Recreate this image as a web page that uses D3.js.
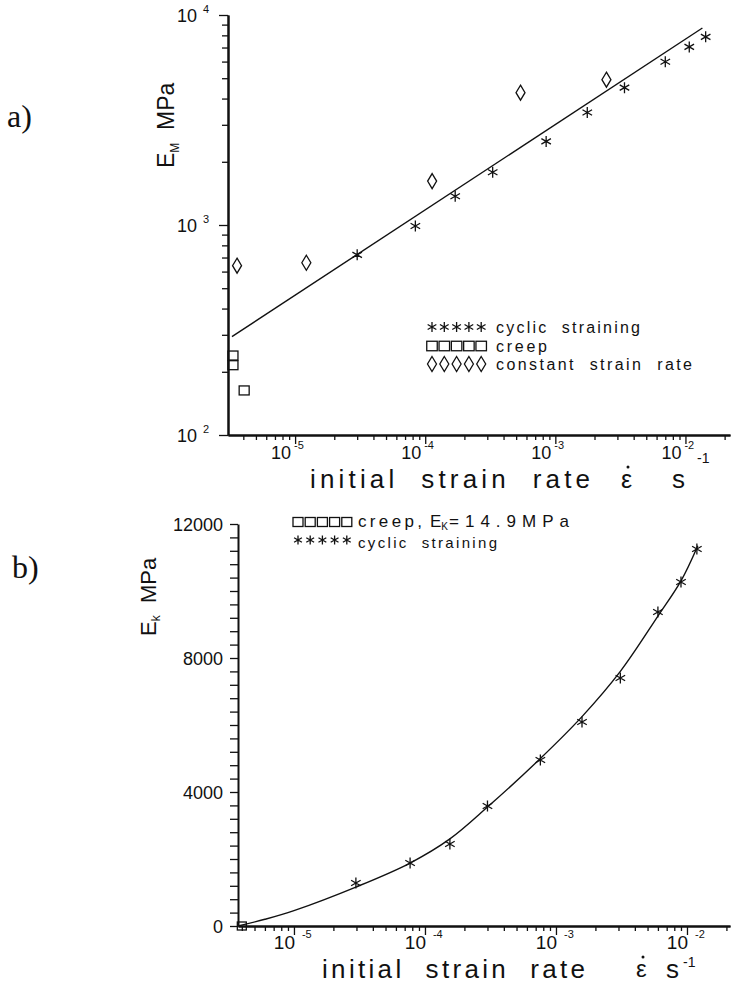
<!DOCTYPE html>
<html>
<head>
<meta charset="utf-8">
<script src="https://cdn.jsdelivr.net/npm/d3@7"></script>
<style>
  html, body { margin: 0; padding: 0; background: #fff; }
  svg { display: block; font-family: "Liberation Sans", Arial, sans-serif; }
  text { white-space: pre; }
</style>
</head>
<body>
<svg id="chart" width="734" height="984"></svg>
<script>
// --- panel a) : E_M vs initial strain rate (log-log) ---
const cyclicRateA = [3.0e-5, 8.4e-5, 1.7e-4, 3.3e-4, 8.5e-4, 1.76e-3, 3.4e-3, 7.0e-3, 1.07e-2, 1.43e-2];
const cyclicEA    = [721, 989, 1371, 1783, 2500, 3434, 4508, 5986, 7050, 7870];
const creepRateA  = [3.33e-6, 3.33e-6, 4.06e-6];
const creepEA     = [239, 215, 163];
const constRateA  = [3.58e-6, 1.22e-5, 1.13e-4, 5.4e-4, 2.47e-3];
const constEA     = [640, 661, 1618, 4266, 4920];
const fitRateA    = [3.27e-6, 1.35e-2];
const fitEA       = [294, 8670];
const legendA     = ["cyclic  straining", "creep", "constant  strain  rate"];

// --- panel b) : E_k vs initial strain rate (lin-log) ---
const cyclicRateB = [2.97e-5, 7.7e-5, 1.55e-4, 3.0e-4, 7.6e-4, 1.58e-3, 3.1e-3, 6.0e-3, 9.0e-3, 1.19e-2];
const cyclicEB    = [1284, 1880, 2448, 3582, 4955, 6090, 7403, 9373, 10269, 11254];
const creepRateB  = [4.0e-6];
const creepEB     = [0];
const fitRateB    = [3.74e-6, 6.0e-6, 1.0e-5, 3.0e-5, 7.7e-5, 1.55e-4, 3.0e-4, 7.6e-4, 1.58e-3, 3.1e-3, 6.0e-3, 9.0e-3, 1.21e-2];
const fitEB       = [0, 200, 460, 1170, 1880, 2600, 3550, 5000, 6250, 7600, 9250, 10300, 11350];
const yTicksB     = [0, 4000, 8000, 12000];

const svg = d3.select("#chart");
const ink = "#111";

// plotter-like marker shapes
function starPath(cx, cy, r) {
  const a = r * 0.87, b = r * 0.5;
  return `M${cx},${cy - r}L${cx},${cy + r}` +
         `M${cx - a},${cy - b}L${cx + a},${cy + b}` +
         `M${cx - a},${cy + b}L${cx + a},${cy - b}`;
}
function diamondPath(cx, cy, w, h) {
  return `M${cx},${cy - h}L${cx + w},${cy}L${cx},${cy + h}L${cx - w},${cy}Z`;
}
function drawStars(g, pts, r) {
  g.selectAll(null).data(pts).join("path")
    .attr("d", d => starPath(d[0], d[1], r))
    .attr("fill", "none").attr("stroke", ink).attr("stroke-width", 1.3);
}
function drawSquares(g, pts, s) {
  g.selectAll(null).data(pts).join("rect")
    .attr("x", d => d[0] - s / 2).attr("y", d => d[1] - s / 2 + 0.5)
    .attr("width", s).attr("height", s - 1)
    .attr("fill", "none").attr("stroke", ink).attr("stroke-width", 1.3);
}
function drawDiamonds(g, pts, w, h) {
  g.selectAll(null).data(pts).join("path")
    .attr("d", d => diamondPath(d[0], d[1], w, h))
    .attr("fill", "none").attr("stroke", ink).attr("stroke-width", 1.3);
}

function logTicks(domain) {
  const minor = [], major = [];
  const lo = Math.floor(Math.log10(domain[0])), hi = Math.ceil(Math.log10(domain[1]));
  for (let e = lo; e <= hi; e++) {
    for (let m = 1; m <= 9; m++) {
      const v = m * Math.pow(10, e);
      if (v < domain[0] || v > domain[1]) continue;
      (m === 1 ? major : minor).push(v);
    }
  }
  return { minor, major };
}

function styleAxis(g, w) {
  g.selectAll("path.domain").attr("stroke", ink).attr("stroke-width", w);
  g.selectAll(".tick line").attr("stroke", ink).attr("stroke-width", 1.3);
}

// "10" with a raised exponent, in one text element
function powLabel(g, xEnd, y, exp, size, supSize, gap, rise) {
  const t = g.append("text").attr("fill", ink).attr("font-size", size);
  t.append("tspan").attr("x", xEnd).attr("y", y).attr("text-anchor", "end").text("10");
  t.append("tspan").attr("x", xEnd + gap).attr("y", y - rise)
    .attr("font-size", supSize).text(exp);
}

// ================= panel a =================
const xA = d3.scaleLog().domain([3.05e-6, 2.2e-2]).range([228, 730]);
const yA = d3.scaleLog().domain([100, 10000]).range([435, 15]);
const gA = svg.append("g");

const tkxA = logTicks(xA.domain());
const axA1 = gA.append("g").attr("transform", `translate(0,${yA(100)})`)
  .call(d3.axisBottom(xA).tickValues(tkxA.minor).tickSize(5).tickSizeOuter(0).tickFormat(""));
const axA2 = gA.append("g").attr("transform", `translate(0,${yA(100)})`)
  .call(d3.axisBottom(xA).tickValues(tkxA.major).tickSize(9).tickSizeOuter(0).tickFormat(""));
styleAxis(axA1, 2); styleAxis(axA2, 2);

const tkyA = logTicks(yA.domain());
const ayA1 = gA.append("g").attr("transform", `translate(${xA.range()[0]},0)`)
  .call(d3.axisLeft(yA).tickValues(tkyA.minor).tickSize(6).tickSizeOuter(0).tickFormat(""));
const ayA2 = gA.append("g").attr("transform", `translate(${xA.range()[0]},0)`)
  .call(d3.axisLeft(yA).tickValues(tkyA.major).tickSize(9).tickSizeOuter(0).tickFormat(""));
styleAxis(ayA1, 2); styleAxis(ayA2, 2);

// tick labels (powers of ten)
tkxA.major.forEach(v => {
  powLabel(gA, xA(v) - 4, 459, "-" + Math.abs(Math.round(Math.log10(v))), 18, 11, 3, 10);
});
tkyA.major.forEach(v => {
  powLabel(gA, 197, yA(v) + 7, String(Math.round(Math.log10(v))), 18, 11, 6, 9);
});

// fitted line
gA.append("path")
  .datum(d3.zip(fitRateA, fitEA))
  .attr("d", d3.line().x(d => xA(d[0])).y(d => yA(d[1])))
  .attr("fill", "none").attr("stroke", ink).attr("stroke-width", 1.4);

drawStars(gA, d3.zip(cyclicRateA, cyclicEA).map(d => [xA(d[0]), yA(d[1])]), 5.5);
drawSquares(gA, d3.zip(creepRateA, creepEA).map(d => [xA(d[0]), yA(d[1])]), 10);
drawDiamonds(gA, d3.zip(constRateA, constEA).map(d => [xA(d[0]), yA(d[1])]), 4.5, 7.5);

// legend a
const legAy = [327, 346, 364];
const legStep = 12.3;
const symX = d3.range(5).map(i => 432 + i * legStep);
drawStars(gA, symX.map(x => [x, legAy[0]]), 5);
drawSquares(gA, symX.map(x => [x, legAy[1]]), 10.5);
drawDiamonds(gA, symX.map(x => [x, legAy[2]]), 4.5, 7.5);
const legAw = [144, 51, 196];
legendA.forEach((s, i) => {
  gA.append("text").attr("x", 496).attr("y", legAy[i] + 6)
    .attr("font-size", 16).attr("fill", ink)
    .attr("textLength", legAw[i]).attr("lengthAdjust", "spacing").text(s);
});

// axis titles a
gA.append("text").attr("x", 310).attr("y", 488).attr("font-size", 26).attr("fill", ink)
  .attr("textLength", 280).attr("lengthAdjust", "spacing").text("initial  strain  rate");
gA.append("text").attr("x", 621).attr("y", 488).attr("font-size", 25).attr("fill", ink).text("ε");
gA.append("circle").attr("cx", 628).attr("cy", 467).attr("r", 1.5).attr("fill", ink);
gA.append("text").attr("x", 672).attr("y", 488).attr("font-size", 26).attr("fill", ink).text("s");
gA.append("text").attr("x", 697).attr("y", 463).attr("font-size", 14).attr("fill", ink).text("-1");

const ytA = gA.append("text").attr("transform", "translate(174,168) rotate(-90)")
  .attr("font-size", 23).attr("fill", ink);
ytA.append("tspan").text("E");
ytA.append("tspan").attr("font-size", 12).attr("dy", 5).text("M");
ytA.append("tspan").attr("dy", -5).text("  MPa");

svg.append("text").attr("x", 7).attr("y", 127).attr("font-family", "'Liberation Serif', serif")
  .attr("font-size", 32).attr("fill", ink).text("a)");

// ================= panel b =================
const xB = d3.scaleLog().domain([3.74e-6, 2.13e-2]).range([238, 730]);
const yB = d3.scaleLinear().domain([0, 12000]).range([926, 524]);
const gB = svg.append("g");

const tkxB = logTicks(xB.domain());
const axB1 = gB.append("g").attr("transform", `translate(0,${yB(0)})`)
  .call(d3.axisBottom(xB).tickValues(tkxB.minor).tickSize(5).tickSizeOuter(0).tickFormat(""));
const axB2 = gB.append("g").attr("transform", `translate(0,${yB(0)})`)
  .call(d3.axisBottom(xB).tickValues(tkxB.major).tickSize(9).tickSizeOuter(0).tickFormat(""));
styleAxis(axB1, 2); styleAxis(axB2, 2);

const ayB = gB.append("g").attr("transform", `translate(${xB.range()[0]},0)`)
  .call(d3.axisLeft(yB).tickValues(d3.range(0, 12001, 400)).tickSize(8).tickSizeOuter(0).tickFormat(""));
styleAxis(ayB, 2);

yTicksB.forEach(v => {
  gB.append("text").attr("x", 223).attr("y", yB(v) + 6.5).attr("text-anchor", "end")
    .attr("font-size", 18).attr("fill", ink).text(v);
});
tkxB.major.forEach(v => {
  powLabel(gB, xB(v) + 1, 949, "-" + Math.abs(Math.round(Math.log10(v))), 19, 11, 7, 11);
});

gB.append("path")
  .datum(d3.zip(fitRateB, fitEB))
  .attr("d", d3.line().curve(d3.curveCatmullRom.alpha(0.5)).x(d => xB(d[0])).y(d => yB(d[1])))
  .attr("fill", "none").attr("stroke", ink).attr("stroke-width", 1.4);

drawStars(gB, d3.zip(cyclicRateB, cyclicEB).map(d => [xB(d[0]), yB(d[1])]), 5.5);
drawSquares(gB, d3.zip(creepRateB, creepEB).map(d => [xB(d[0]), yB(d[1])]), 9);

// legend b
const legBx = d3.range(5).map(i => 298 + i * 12.2);
drawSquares(gB, legBx.map(x => [x, 522]), 10);
drawStars(gB, legBx.map(x => [x, 540]), 4.5);
const lb = gB.append("text").attr("y", 527).attr("font-size", 17).attr("fill", ink);
lb.append("tspan").attr("x", 358).attr("textLength", 64).attr("lengthAdjust", "spacing").text("creep,");
lb.append("tspan").attr("x", 430).text("E");
lb.append("tspan").attr("font-size", 10).attr("dy", 3).text("K");
lb.append("tspan").attr("dy", -3).attr("x", 449).attr("textLength", 120).attr("lengthAdjust", "spacing").text("=14.9MPa");
gB.append("text").attr("x", 358).attr("y", 548).attr("font-size", 15).attr("fill", ink)
  .attr("textLength", 139).attr("lengthAdjust", "spacing").text("cyclic  straining");

// axis titles b
gB.append("text").attr("x", 322).attr("y", 978).attr("font-size", 26).attr("fill", ink)
  .attr("textLength", 263).attr("lengthAdjust", "spacing").text("initial  strain  rate");
gB.append("text").attr("x", 636).attr("y", 977).attr("font-size", 24).attr("fill", ink).text("ε");
gB.append("circle").attr("cx", 643).attr("cy", 957).attr("r", 1.5).attr("fill", ink);
gB.append("text").attr("x", 666).attr("y", 978).attr("font-size", 26).attr("fill", ink).text("s");
gB.append("text").attr("x", 683).attr("y", 967).attr("font-size", 14).attr("fill", ink).text("-1");

const ytB = gB.append("text").attr("transform", "translate(156,636) rotate(-90)")
  .attr("font-size", 22).attr("fill", ink);
ytB.append("tspan").text("E");
ytB.append("tspan").attr("font-size", 12).attr("dy", 4).text("k");
ytB.append("tspan").attr("dy", -4).text("  MPa");

svg.append("text").attr("x", 12).attr("y", 578).attr("font-family", "'Liberation Serif', serif")
  .attr("font-size", 32).attr("fill", ink).text("b)");
</script>
</body>
</html>
